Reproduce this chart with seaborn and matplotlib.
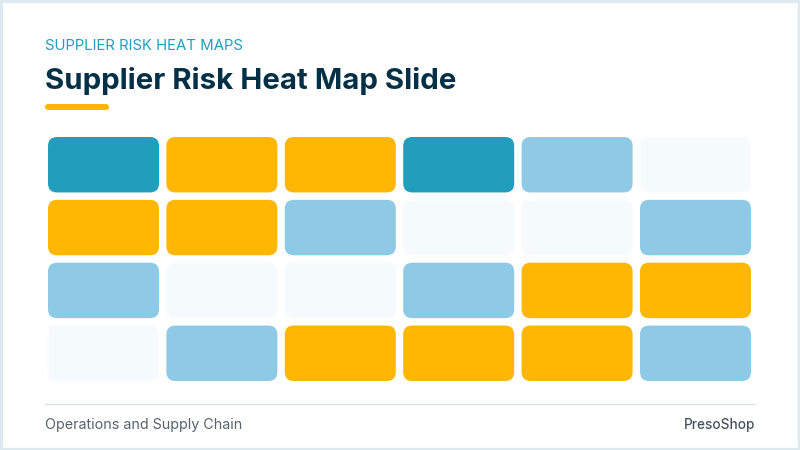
import matplotlib
matplotlib.use("Agg")
import matplotlib.pyplot as plt
from matplotlib.colors import ListedColormap, BoundaryNorm
from matplotlib.patches import FancyBboxPatch, Rectangle
import numpy as np
import seaborn as sns

# Risk level per cell: 0 none, 1 low, 2 medium, 3 high
row1 = [3, 2, 2, 3, 1, 0]
row2 = [2, 2, 1, 0, 0, 1]
row3 = [1, 0, 0, 1, 2, 2]
row4 = [0, 1, 2, 2, 2, 1]
risk_colors = ["#F5FAFC", "#8ECAE6", "#FFB703", "#219EBC"]

kicker = "SUPPLIER RISK HEAT MAPS"
title = "Supplier Risk Heat Map Slide"
footer_left = "Operations and Supply Chain"
footer_right = "PresoShop"

W, H = 800, 450
sns.set_theme(style="white")
plt.rcParams["font.family"] = ["Inter", "DejaVu Sans"]

fig = plt.figure(figsize=(8, 4.5), dpi=100, facecolor="white")

# heatmap area in pixels, measured from the top left
left, right, top, bottom = 44.3, 754.7, 133.3, 384.7
ax = fig.add_axes([left / W, 1 - bottom / H, (right - left) / W, (bottom - top) / H])

risk = np.array([row1, row2, row3, row4])
cmap = ListedColormap(risk_colors)
norm = BoundaryNorm([-0.5, 0.5, 1.5, 2.5, 3.5], cmap.N)
sns.heatmap(risk, cmap=cmap, norm=norm, cbar=False, xticklabels=False, yticklabels=False, ax=ax)

# swap the square mesh for rounded cells
ax.collections[0].set_visible(False)
ax.patch.set_alpha(0)
px_x = (right - left) / risk.shape[1]
px_y = (bottom - top) / risk.shape[0]
pad_x = 3.7 / px_x
pad_y = 3.7 / px_y
for r in range(risk.shape[0]):
    for c in range(risk.shape[1]):
        pale = risk[r, c] == 0
        box = FancyBboxPatch(
            (c + pad_x, r + pad_y), 1 - 2 * pad_x, 1 - 2 * pad_y,
            boxstyle="round,pad=0,rounding_size=%f" % (9 / px_x),
            mutation_aspect=px_x / px_y,
            facecolor=cmap(norm(risk[r, c])),
            # the empty cells fade out softly at the edge
            edgecolor="#FAFCFD" if pale else "none",
            linewidth=1.5 if pale else 0,
        )
        ax.add_patch(box)

# slide frame
fig.patches.append(Rectangle((0, 0), 1, 1, transform=fig.transFigure, fill=False,
                             edgecolor="#DCE9EE", linewidth=3.8))

# accent bar under the title
fig.patches.append(FancyBboxPatch((45 / W, 1 - 110 / H), 64 / W, 6 / H, transform=fig.transFigure,
                                  boxstyle="round,pad=0,rounding_size=0.004",
                                  mutation_aspect=W / H, facecolor="#FFB703", edgecolor="none"))

# footer rule
fig.add_artist(plt.Line2D([45 / W, 755 / W], [1 - 404 / H] * 2, color="#DDE3E6", linewidth=1.0))

fig.text(45 / W, 1 - 46 / H, kicker, color="#219EBC", fontsize=10.75, va="center", ha="left")
fig.text(45 / W, 1 - 81 / H, title, color="#023047", fontsize=21.2, fontweight="bold", va="center", ha="left")
fig.text(45 / W, 1 - 424.5 / H, footer_left, color="#56636D", fontsize=10.3, va="center", ha="left")
fig.text(755 / W, 1 - 424.5 / H, footer_right, color="#46535E", fontsize=9.8, fontweight="medium", va="center", ha="right")

fig.savefig("out.png", dpi=100)
